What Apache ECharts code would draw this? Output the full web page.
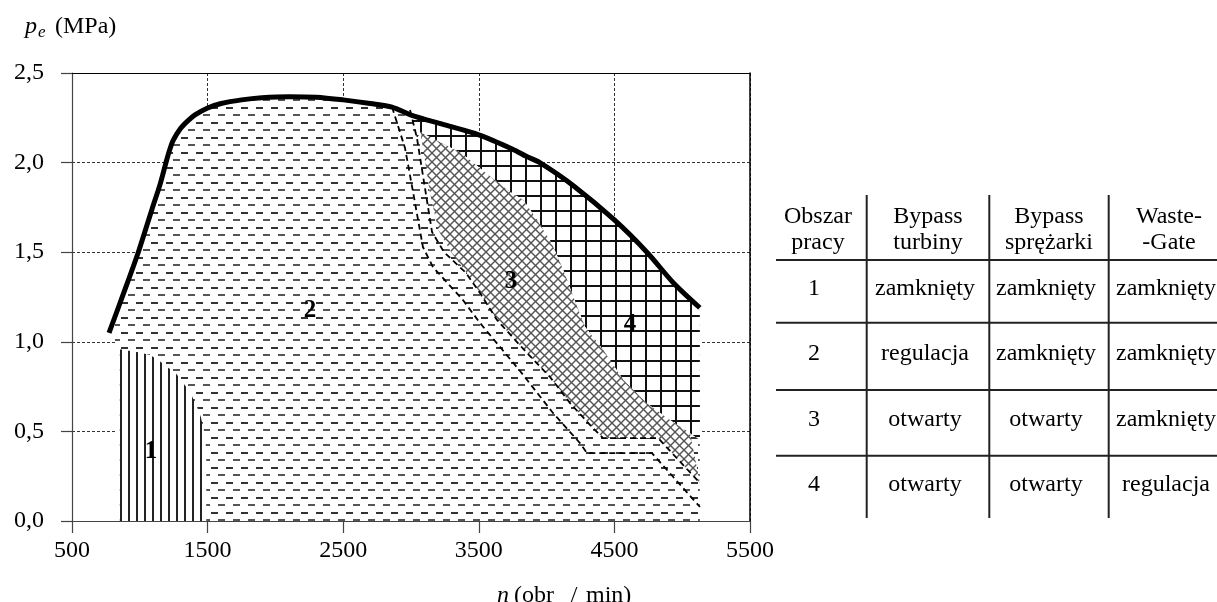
<!DOCTYPE html>
<html><head><meta charset="utf-8">
<script src="https://cdn.jsdelivr.net/npm/echarts@6/dist/echarts.min.js"></script>
<style>html,body{margin:0;padding:0;background:#fff}#c{width:1217px;height:602px}</style>
</head><body><div id="c"></div>
<script>
// ---- data ----
const xTicks = [500, 1500, 2500, 3500, 4500, 5500];
const yTicks = ['0,0', '0,5', '1,0', '1,5', '2,0', '2,5'];
// full-load envelope p_e(n)
const envelope = [[773,1.05],[880,1.27],[989,1.50],[1090,1.74],[1150,1.88],[1193,2.00],[1220,2.07],[1247,2.125],[1300,2.19],[1350,2.23],[1407,2.266],[1500,2.305],[1600,2.33],[1750,2.35],[1900,2.362],[2100,2.368],[2300,2.365],[2500,2.35],[2700,2.33],[2860,2.31],[3000,2.265],[3250,2.21],[3500,2.155],[3750,2.075],[3850,2.035],[3950,2.00],[4200,1.87],[4500,1.68],[4740,1.50],[4934,1.33],[5130,1.19]];
// area 1 (vertical hatch)
const area1 = [[849,0],[849,0.958],[1000,0.94],[1080,0.925],[1150,0.89],[1200,0.86],[1260,0.83],[1320,0.77],[1370,0.72],[1420,0.64],[1450,0.58],[1475,0.50],[1490,0.40],[1490,0]];
const area1Gap = [[817,0],[817,0.96],[849,0.958],[849,0]];
// area 3 (cross hatch) edges
const area3Left = [[3070,2.17],[3140,1.83],[3201,1.624],[3300,1.496],[3411,1.384],[3509,1.272],[3634,1.122],[3855,0.938],[4025,0.804],[4173,0.658],[4320,0.536],[4416,0.463],[4822,0.463],[5131,0.212]];
const area3Right = [[3070,2.17],[3374,2.052],[3570,1.931],[3730,1.838],[3828,1.791],[3914,1.698],[4038,1.55],[4123,1.401],[4197,1.252],[4283,1.084],[4418,0.954],[4566,0.787],[4738,0.657],[4910,0.564],[5058,0.489],[5131,0.452]];
// dashed boundary lines
const lineA = [[2860,2.31],[2956,2.081],[3015,1.836],[3088,1.529],[3162,1.417],[3383,1.233],[3509,1.105],[3804,0.837],[4047,0.603],[4246,0.435],[4298,0.379],[4777,0.379],[5131,0.078]];
const lineB = [[2993,2.294],[3044,2.137],[3103,1.858],[3155,1.613],[3243,1.501],[3406,1.384],[3509,1.272],[3634,1.122],[3855,0.938],[4025,0.804],[4173,0.658],[4320,0.536],[4416,0.463],[4822,0.463],[5131,0.212]];
// region numbers
const regionNames = ['1', '2', '3', '4'];
const regionPos = [[1083,0.385],[2255,1.177],[3737,1.334],[4615,1.094]];
// table
const tableHeader = [['Obszar','pracy'],['Bypass','turbiny'],['Bypass','sprężarki'],['Waste-','-Gate']];
const tableRows = [
  ['1','zamknięty','zamknięty','zamknięty'],
  ['2','regulacja','zamknięty','zamknięty'],
  ['3','otwarty','otwarty','zamknięty'],
  ['4','otwarty','otwarty','regulacja']
];

// ---- derived polygons ----
const area2 = [[817,0],[817,1.142]].concat(envelope.filter(p => p[0] > 817)).concat([[5130,0]]);
const area3 = area3Left.concat(area3Right.slice(0, -1).reverse().slice(0, -1));
const area4 = [[2993,2.294]].concat(envelope.filter(p => p[0] > 2993))
  .concat(area3Right.slice().reverse()).concat([[3044,2.137]]);

// ---- patterns ----
function pattern(w, h, draw) {
  const c = document.createElement('canvas');
  c.width = w; c.height = h;
  const ctx = c.getContext('2d');
  ctx.fillStyle = '#fff'; ctx.fillRect(0, 0, w, h);
  draw(ctx, w, h);
  return { image: c, repeat: 'repeat' };
}
const patDash = pattern(15, 15, ctx => {
  ctx.fillStyle = '#333'; ctx.fillRect(1, 2, 7, 2);
  ctx.fillStyle = '#555'; ctx.fillRect(8, 9, 7, 2);
});
const patVert = pattern(8, 4, ctx => { ctx.fillStyle = '#222'; ctx.fillRect(0, 0, 2, 4); });
const patCross = pattern(9, 9, ctx => {
  ctx.strokeStyle = '#555'; ctx.lineWidth = 1.4;
  for (let o = -9; o <= 9; o += 9) {
    ctx.beginPath(); ctx.moveTo(o, 0); ctx.lineTo(o + 9, 9); ctx.stroke();
    ctx.beginPath(); ctx.moveTo(o + 9, 0); ctx.lineTo(o, 9); ctx.stroke();
  }
});
const patGrid = pattern(15, 15, ctx => {
  ctx.fillStyle = '#111'; ctx.fillRect(0, 0, 2, 15); ctx.fillRect(0, 0, 15, 2);
});

function polygonSeries(name, pts, fill, z) {
  return {
    type: 'custom', name, z, silent: true, coordinateSystem: 'cartesian2d',
    data: pts, encode: { x: 0, y: 1 }, clip: true,
    renderItem: (params, api) => {
      if (params.dataIndex !== 0) return null;
      return { type: 'polygon', shape: { points: pts.map(p => api.coord(p)) }, style: { fill } };
    }
  };
}
function dashedLine(name, pts) {
  return { type: 'line', name, data: pts, z: 8, silent: true, showSymbol: false, symbol: 'none',
    lineStyle: { color: '#000', width: 1.8, type: [6, 4] } };
}

const serif = '"Liberation Serif", "Times New Roman", serif';
const fontN = '24px ' + serif;

// ---- table graphic ----
const colX = [814, 925, 1046, 1166];
const vLines = [866.7, 989.3, 1108.7];
const hLines = [260, 322.7, 390, 455.7];
const rowY = [288.3, 353.3, 419.3, 485];
const g = [];
vLines.forEach(x => g.push({ type: 'line', shape: { x1: x, y1: 195, x2: x, y2: 518 }, style: { stroke: '#222', lineWidth: 2 } }));
hLines.forEach(y => g.push({ type: 'line', shape: { x1: 776, y1: y, x2: 1217, y2: y }, style: { stroke: '#222', lineWidth: 2 } }));
function txt(text, x, y, font, align) {
  return { type: 'text', x, y, style: { text, font: font || fontN, fill: '#000',
    align: align || 'center', verticalAlign: 'middle', textAlign: align || 'center', textVerticalAlign: 'middle' } };
}
tableHeader.forEach((h, i) => { g.push(txt(h[0], colX[i] + (i === 0 ? 4 : 3), 216.7)); g.push(txt(h[1], colX[i] + (i === 0 ? 4 : 3), 243)); });
tableRows.forEach((r, j) => r.forEach((t, i) => g.push(txt(t, colX[i], rowY[j]))));
// axis titles
g.push(txt('p', 25, 27, 'italic 24px ' + serif, 'left'));
g.push(txt('e', 38, 33, 'italic 17px ' + serif, 'left'));
g.push(txt('(MPa)', 55, 27, fontN, 'left'));
g.push(txt('n', 497, 596, 'italic 24px ' + serif, 'left'));
g.push(txt('(obr', 514, 596, fontN, 'left'));
g.push(txt('/', 574, 596, fontN, 'center'));
g.push(txt('min)', 586, 596, fontN, 'left'));

const axisCommon = { type: 'value', min: 500, max: 5500, interval: 1000 };
const yCommon = { type: 'value', min: 0, max: 2.5, interval: 0.5 };

const chart = echarts.init(document.getElementById('c'), null, { renderer: 'canvas' });
chart.setOption({
  animation: false,
  backgroundColor: '#fff',
  grid: { left: 72, right: 467, top: 73, bottom: 81, containLabel: false },
  xAxis: [
    Object.assign({}, axisCommon, { position: 'bottom', z: 10,
      axisLine: { show: true, onZero: false, lineStyle: { color: '#444', width: 1.2 } },
      axisTick: { show: true, inside: false, length: 12, lineStyle: { color: '#444', width: 1.2 } },
      axisLabel: { margin: 18, color: '#000', fontSize: 24, fontFamily: serif,
        formatter: v => xTicks.indexOf(v) >= 0 ? String(v) : '' },
      splitLine: { show: false } }),
    Object.assign({}, axisCommon, { position: 'top', z: 10,
      axisLine: { show: true, onZero: false, lineStyle: { color: '#000', width: 1.2 } },
      axisTick: { show: false }, axisLabel: { show: false }, splitLine: { show: false } }),
    Object.assign({}, axisCommon, { position: 'bottom', z: 0,
      axisLine: { show: false }, axisTick: { show: false }, axisLabel: { show: false },
      splitLine: { show: true, lineStyle: { color: '#333', width: 1, type: [3, 2] } } })
  ],
  yAxis: [
    Object.assign({}, yCommon, { position: 'left', z: 10,
      axisLine: { show: true, onZero: false, lineStyle: { color: '#444', width: 1.2 } },
      axisTick: { show: true, inside: false, length: 11, lineStyle: { color: '#444', width: 1.2 } },
      axisLabel: { margin: 28, color: '#000', fontSize: 24, fontFamily: serif,
        formatter: v => yTicks[Math.round(v / 0.5)] },
      splitLine: { show: false } }),
    Object.assign({}, yCommon, { position: 'right', z: 10,
      axisLine: { show: true, onZero: false, lineStyle: { color: '#000', width: 1.5 } },
      axisTick: { show: false }, axisLabel: { show: false }, splitLine: { show: false } }),
    Object.assign({}, yCommon, { position: 'left', z: 0,
      axisLine: { show: false }, axisTick: { show: false }, axisLabel: { show: false },
      splitLine: { show: true, lineStyle: { color: '#333', width: 1, type: [3, 2] } } })
  ],
  series: [
    polygonSeries('Obszar 2', area2, patDash, 2),
    polygonSeries('Obszar 4', area4, patGrid, 3),
    polygonSeries('Obszar 3', area3, patCross, 4),
    polygonSeries('gap', area1Gap, '#fff', 5),
    polygonSeries('Obszar 1', area1, patVert, 6),
    dashedLine('granica A', lineA),
    dashedLine('granica B', lineB),
    { type: 'line', name: 'charakterystyka zewnętrzna', data: envelope, z: 9, silent: true,
      showSymbol: false, symbol: 'none', smooth: 0.3,
      lineStyle: { color: '#000', width: 5 } },
    { type: 'custom', name: 'numery', z: 12, silent: true, coordinateSystem: 'cartesian2d',
      data: regionPos, encode: { x: 0, y: 1 },
      renderItem: (params, api) => {
        const c = api.coord([api.value(0), api.value(1)]);
        return { type: 'text', x: c[0], y: c[1], style: { text: regionNames[params.dataIndex],
          font: 'bold 25px ' + serif, fill: '#000', align: 'center', verticalAlign: 'middle',
          textAlign: 'center', textVerticalAlign: 'middle' } };
      } }
  ],
  graphic: g
});
</script></body></html>
